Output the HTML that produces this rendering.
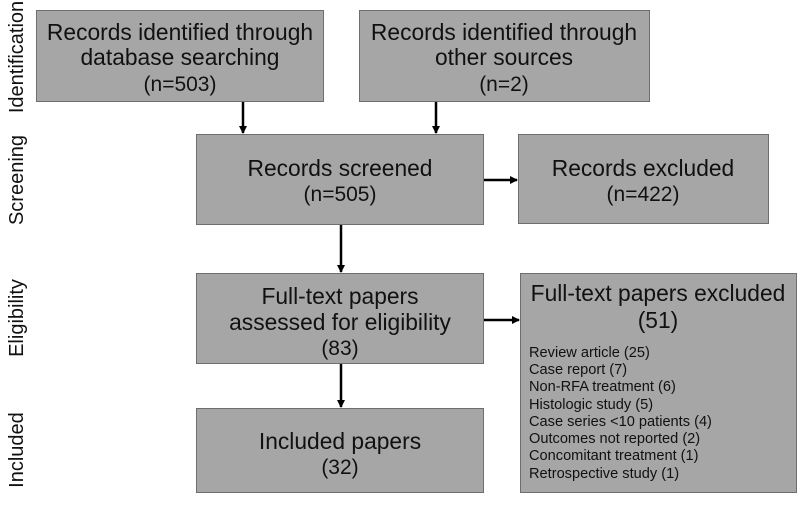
<!DOCTYPE html>
<html><head><style>body{margin:0;background:#fff}</style></head><body>
<svg width="800" height="504" xmlns="http://www.w3.org/2000/svg" font-family="Liberation Sans, Arial, sans-serif">
<defs><marker id="a" markerWidth="8" markerHeight="8" refX="7" refY="4" orient="auto" markerUnits="userSpaceOnUse"><path d="M0,0 L8,4 L0,8z" fill="#000"/></marker></defs>
<g fill="#a6a6a6" stroke="#6e6e6e" stroke-width="1">
<rect x="36.5" y="10.5" width="287" height="91"/>
<rect x="359.5" y="10.5" width="290" height="91"/>
<rect x="196.5" y="134.5" width="287" height="90"/>
<rect x="518.5" y="134.5" width="250" height="89"/>
<rect x="196.5" y="273.5" width="287" height="90"/>
<rect x="520.5" y="273.5" width="276" height="219"/>
<rect x="196.5" y="408.5" width="287" height="84"/>
</g>
<g stroke="#000" stroke-width="2.5" marker-end="url(#a)">
<line x1="243" y1="102" x2="243" y2="133"/>
<line x1="436" y1="102" x2="436" y2="133"/>
<line x1="341" y1="225" x2="341" y2="272"/>
<line x1="341" y1="364" x2="341" y2="407"/>
<line x1="484" y1="180" x2="517" y2="180"/>
<line x1="484" y1="320" x2="519" y2="320"/>
</g>
<g font-size="22.8" text-anchor="middle" fill="#111">
<text x="180" y="40">Records identified through</text>
<text x="180" y="65">database searching</text>
<text x="180" y="91" font-size="21">(n=503)</text>
<text x="504" y="40">Records identified through</text>
<text x="504" y="65">other sources</text>
<text x="504" y="91" font-size="21">(n=2)</text>
<text x="340" y="176">Records screened</text>
<text x="340" y="201" font-size="21">(n=505)</text>
<text x="643" y="176">Records excluded</text>
<text x="643" y="201" font-size="21">(n=422)</text>
<text x="340" y="304">Full-text papers</text>
<text x="340" y="330">assessed for eligibility</text>
<text x="340" y="355" font-size="21">(83)</text>
<text x="340" y="449">Included papers</text>
<text x="340" y="474" font-size="21">(32)</text>
<text x="658" y="301">Full-text papers excluded</text>
<text x="658" y="328">(51)</text>
</g>
<g font-size="14.6" fill="#111">
<text x="529" y="357">Review article (25)</text>
<text x="529" y="374">Case report (7)</text>
<text x="529" y="391">Non-RFA treatment (6)</text>
<text x="529" y="409">Histologic study (5)</text>
<text x="529" y="426">Case series &lt;10 patients (4)</text>
<text x="529" y="443">Outcomes not reported (2)</text>
<text x="529" y="460">Concomitant treatment (1)</text>
<text x="529" y="478">Retrospective study (1)</text>
</g>
<g font-size="20" text-anchor="middle" fill="#111">
<text transform="translate(23,57) rotate(-90)">Identification</text>
<text transform="translate(23,180) rotate(-90)">Screening</text>
<text transform="translate(23,318) rotate(-90)">Eligibility</text>
<text transform="translate(23,450) rotate(-90)">Included</text>
</g>
</svg>
</body></html>
